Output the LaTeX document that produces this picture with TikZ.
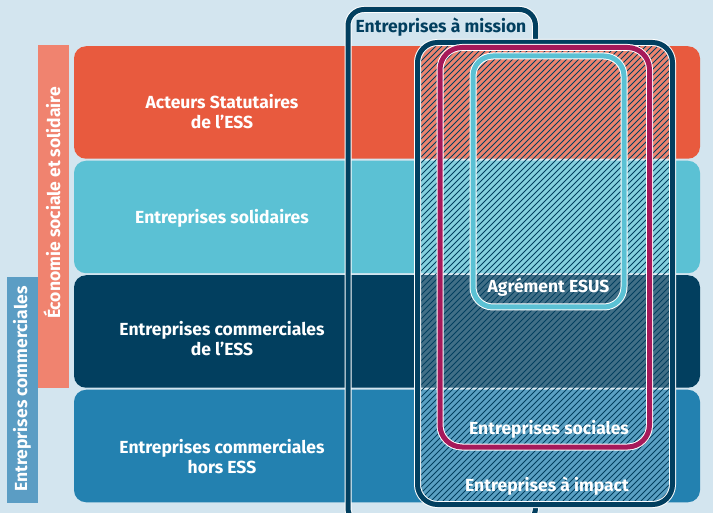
\documentclass[tikz,border=0pt]{standalone}
\usepackage{fontspec}
\setmainfont{Fira Sans}

\definecolor{paper}{HTML}{D3E5EF}
\definecolor{essorange}{HTML}{E85A3E}
\definecolor{esscyan}{HTML}{5BC1D4}
\definecolor{essnavy}{HTML}{023F5F}
\definecolor{essblue}{HTML}{2381B0}
\definecolor{esssalmon}{HTML}{F0836F}
\definecolor{commblue}{HTML}{5B9DC4}
\definecolor{essruby}{HTML}{A6195A}

\tikzset{
  rowbox/.style={rounded corners=12pt, minimum width=626pt, minimum height=112.5pt,
    inner sep=0pt, draw=none},
  lbl/.style={text=white, font=\bfseries\fontsize{17.5}{20}\selectfont, align=center, inner sep=0pt},
  sidebar/.style={inner sep=0pt, draw=none},
  sidetext/.style={text=white, font=\bfseries\fontsize{17.5}{20}\selectfont, rotate=90, inner sep=0pt},
  halo/.style={draw=white, line width=7pt},
  ring/.style={line width=5pt},
  hatchline/.style={draw=essnavy, line width=1pt}
}

\begin{document}
\begin{tikzpicture}[x=1pt,y=-1pt]
\useasboundingbox (0,0) rectangle (713,513);
\fill[paper] (0,0) rectangle (713,513);

% side bars
\node[sidebar, fill=esssalmon, minimum width=31pt, minimum height=343pt] (ess) at (53.5,216.5) {};
\node[sidebar, fill=commblue, minimum width=31pt, minimum height=226pt] (comm) at (22.5,390) {};
\node[sidetext] (esst) at (52,203) {Économie sociale et solidaire};
\node[sidetext] (commt) at (22,389) {Entreprises commerciales};

% the four bands
\node[rowbox, fill=essorange] (r1) at (387,102.5) {};
\node[rowbox, fill=esscyan]   (r2) at (387,217) {};
\node[rowbox, fill=essnavy]   (r3) at (387,331.5) {};
\node[rowbox, fill=essblue]   (r4) at (387,446) {};

\node[lbl] (t1) at (222,112) {Acteurs Statutaires\\de l’ESS};
\node[lbl, anchor=base] (t2) at (222,224) {Entreprises solidaires};
\node[lbl] (t3) at (222,339) {Entreprises commerciales\\de l’ESS};
\node[lbl] (t4) at (222,457) {Entreprises commerciales\\hors ESS};

% Entreprises à mission: open outline, its right side runs under the impact box
\coordinate (m1) at (535.5,44);
\coordinate (m2) at (535.5,9.5);
\coordinate (m3) at (348,9.5);
\coordinate (m4) at (348,524);
\coordinate (m5) at (535.5,524);
\coordinate (m6) at (535.5,500);
\draw[halo, rounded corners=16pt] (m1) -- (m2) -- (m3) -- (m4) -- (m5) -- (m6);
\draw[ring, draw=essnavy, rounded corners=16pt] (m1) -- (m2) -- (m3) -- (m4) -- (m5) -- (m6);
\node[text=essnavy, font=\bfseries\fontsize{17.5}{20}\selectfont, anchor=base, inner sep=0pt] (mt) at (441,33) {Entreprises à mission};

% Entreprises à impact: lightened, hatched area
\coordinate (i1) at (417.5,42.5);
\coordinate (i2) at (672.5,504.5);
\fill[white, opacity=0.25, rounded corners=20pt] (i1) rectangle (i2);
\begin{scope}
  \clip[rounded corners=20pt] (i1) rectangle (i2);
  \foreach \k in {0,...,121}
    \draw[hatchline] ({-50+6*\k},508) -- ++(470,-470);
\end{scope}
\draw[halo, rounded corners=20pt] (i1) rectangle (i2);
\draw[ring, draw=essnavy, rounded corners=20pt] (i1) rectangle (i2);

% Entreprises sociales
\coordinate (s1) at (440,47.5);
\coordinate (s2) at (649.5,447);
\draw[halo, rounded corners=22pt] (s1) rectangle (s2);
\draw[ring, draw=essruby, rounded corners=22pt] (s1) rectangle (s2);

% Agrément ESUS
\coordinate (e1) at (473,56);
\coordinate (e2) at (624,307);
\draw[halo, rounded corners=20pt] (e1) rectangle (e2);
\draw[ring, draw=esscyan, rounded corners=20pt] (e1) rectangle (e2);

\node[lbl, anchor=base] (esus) at (548.5,292.5) {Agrément ESUS};
\node[lbl, anchor=base] (soc) at (549,435) {Entreprises sociales};
\node[lbl, anchor=base] (imp) at (547,491.5) {Entreprises à impact};
\end{tikzpicture}
\end{document}
